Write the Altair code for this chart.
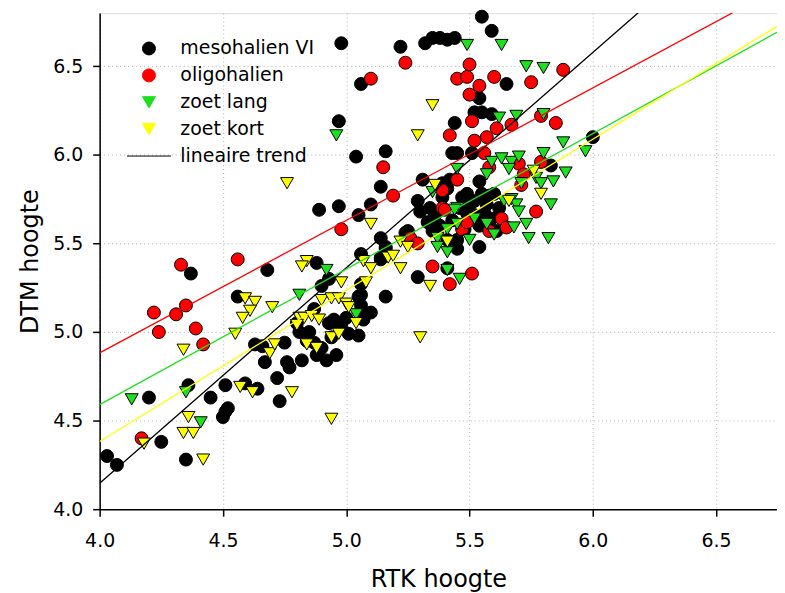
import altair as alt
import pandas as pd

# ---- data ----
meso_x = [4.03, 4.07, 4.20, 4.25, 4.35, 4.36, 4.45, 4.51, 4.50, 4.51, 4.52, 4.59, 4.64, 4.63, 4.66, 4.67,
          4.72, 4.73, 4.75, 4.76, 4.77, 4.82, 4.80, 4.81, 4.85, 4.87, 4.90, 4.87, 4.90, 4.92, 4.88, 4.96,
          4.94, 4.93, 4.96, 4.98, 5.01, 5.05, 4.95, 5.06, 5.06, 5.07, 5.10, 5.05, 5.16, 5.06, 5.06, 4.93,
          4.88, 4.68, 4.37, 4.56, 5.06, 5.14, 5.16, 5.14, 5.24, 5.05, 4.89, 4.97, 5.10, 5.14, 5.04, 5.16,
          4.97, 5.06, 4.98, 5.22, 5.32, 5.35, 5.38, 5.41, 5.44, 5.55, 5.59, 5.65, 5.54, 5.52, 5.55, 5.59,
          5.44, 5.43, 5.45, 5.51, 5.31, 5.39, 5.41, 5.42, 5.54, 5.29, 5.39, 5.34, 5.36, 5.33, 5.35, 5.47,
          5.49, 5.52, 5.55, 5.58, 5.60, 5.46, 5.49, 5.52, 5.56, 5.59, 5.54, 5.48, 5.43, 5.62, 5.41, 5.45,
          5.45, 5.61, 5.54, 5.41, 5.29, 5.25, 5.16, 5.14, 5.83, 6.00, 5.00, 4.84, 5.38, 5.50, 5.57, 5.30]
meso_y = [4.30, 4.25, 4.63, 4.38, 4.28, 4.70, 4.63, 4.70, 4.52, 4.55, 4.57, 4.71, 4.68, 4.93, 4.92, 4.83,
          4.74, 4.61, 4.94, 4.83, 4.80, 4.84, 5.05, 5.00, 5.00, 5.13, 5.26, 4.94, 4.91, 4.84, 4.87, 4.87,
          4.97, 5.05, 5.05, 5.03, 4.99, 4.98, 5.07, 5.15, 5.11, 5.07, 5.11, 5.20, 5.20, 5.21, 5.27, 5.30,
          5.39, 5.35, 5.33, 5.20, 5.44, 5.41, 5.47, 5.53, 5.56, 5.66, 5.69, 5.71, 5.72, 5.82, 5.99, 6.02,
          6.19, 6.40, 6.63, 6.61, 6.63, 6.66, 6.66, 6.65, 6.66, 6.78, 6.70, 6.40, 6.32, 6.24, 6.24, 6.23,
          6.18, 6.01, 6.01, 6.01, 5.86, 5.84, 5.81, 5.86, 5.85, 5.74, 5.76, 5.70, 5.66, 5.62, 5.57, 5.76,
          5.78, 5.74, 5.78, 5.77, 5.78, 5.70, 5.67, 5.66, 5.67, 5.64, 5.60, 5.58, 5.63, 5.70, 5.52, 5.52,
          5.47, 5.57, 5.48, 5.36, 5.31, 5.57, 5.48, 5.42, 5.94, 6.10, 5.08, 4.95, 5.60, 5.72, 5.72, 5.68]

oligo_x = [4.17, 4.22, 4.31, 4.35, 4.24, 4.39, 4.42, 4.33, 4.56, 4.98, 5.15, 5.19, 5.10, 5.24, 5.50,
           5.45, 5.49, 5.54, 5.60, 5.75, 5.88, 5.50, 5.51, 5.79, 5.61, 5.67, 5.85, 5.42, 5.52, 5.57,
           5.56, 5.45, 5.39, 5.39, 5.40, 5.58, 5.70, 5.79, 5.72, 5.71, 5.77, 5.63, 5.65, 5.58, 5.50,
           5.47, 5.26, 5.29, 5.35, 5.42, 5.51, 5.49]
oligo_y = [4.40, 5.11, 5.10, 5.15, 5.00, 5.02, 4.93, 5.38, 5.41, 5.58, 5.93, 5.77, 6.43, 6.52, 6.51,
           6.43, 6.44, 6.39, 6.44, 6.41, 6.48, 6.34, 6.19, 6.22, 6.15, 6.17, 6.18, 6.11, 6.08, 6.10,
           6.01, 5.86, 5.80, 5.70, 5.69, 5.93, 5.95, 5.96, 5.89, 5.83, 5.68, 5.64, 5.59, 5.57, 5.63,
           5.58, 5.53, 5.50, 5.37, 5.27, 5.33, 5.62]

lang_x = [4.13, 4.35, 4.41, 4.81, 4.92, 5.04, 4.96, 5.49, 5.63, 5.73, 5.80, 5.62, 5.69, 5.80, 5.45,
          5.35, 5.45, 5.57, 5.59, 5.63, 5.67, 5.66, 5.70, 5.80, 5.77, 5.88, 5.97, 5.89, 5.84, 5.79,
          5.71, 5.83, 5.73, 5.74, 5.82, 5.67, 5.69, 5.70, 5.64, 5.68, 5.57, 5.52, 5.45, 5.44, 5.41,
          5.37, 5.37, 5.41, 5.41, 5.46, 5.50, 5.60]
lang_y = [4.62, 4.66, 4.49, 5.21, 5.35, 5.10, 6.11, 6.62, 6.62, 6.50, 6.49, 6.21, 6.22, 6.23, 5.92,
          5.79, 5.70, 5.89, 5.96, 5.98, 5.96, 5.92, 5.99, 6.01, 5.87, 6.07, 6.02, 5.90, 5.85, 5.84,
          5.84, 5.72, 5.61, 5.53, 5.53, 5.75, 5.72, 5.68, 5.74, 5.59, 5.61, 5.64, 5.61, 5.69, 5.58,
          5.53, 5.48, 5.45, 5.35, 5.30, 5.52, 5.55]

kort_x = [4.18, 4.34, 4.38, 4.42, 4.36, 4.34, 4.55, 4.57, 4.62, 4.78, 4.94, 4.59, 4.63, 4.61, 4.58,
          4.70, 4.69, 4.71, 4.84, 4.88, 4.81, 4.83, 4.86, 4.89, 4.80, 4.90, 4.94, 4.97, 5.00, 5.01,
          5.04, 4.94, 4.97, 4.84, 4.82, 4.98, 5.08, 5.07, 5.10, 5.17, 5.19, 5.22, 5.25, 5.22, 5.34,
          5.30, 5.10, 4.76, 5.29, 5.35, 5.36, 5.41, 5.66, 5.76, 5.79]
kort_y = [4.37, 4.43, 4.43, 4.28, 4.52, 4.90, 4.99, 4.69, 4.66, 4.66, 4.51, 5.19, 5.17, 5.12, 5.08,
          5.14, 4.88, 4.93, 4.93, 4.91, 5.08, 5.08, 5.09, 5.07, 5.04, 5.18, 5.19, 5.19, 5.16, 5.14,
          5.05, 4.97, 4.99, 5.40, 5.37, 5.28, 5.28, 5.40, 5.36, 5.42, 5.43, 5.51, 5.48, 5.36, 5.26,
          4.97, 5.61, 5.84, 6.11, 6.28, 5.83, 5.51, 5.74, 5.91, 5.78]

groups = ["mesohalien VI", "oligohalien", "zoet lang", "zoet kort", "lineaire trend"]
colors = ["#000000", "#ff0000", "#1ee01e", "#ffff00", "#000000"]
shapes = ["circle", "circle", "triangle-down", "triangle-down", "M-3.4,0L3.4,0"]

# linear trends per group (value at x=4.0, slope)
trend_groups = ["mesohalien VI", "oligohalien", "zoet lang", "zoet kort"]
trend_y0 = [4.146, 4.882, 4.590, 4.382]
trend_slope = [1.216, 0.748, 0.765, 0.853]

x_ticks = [4.0, 4.5, 5.0, 5.5, 6.0, 6.5]
y_ticks = [4.0, 4.5, 5.0, 5.5, 6.0, 6.5]
x_dom = [4.0, 6.747]
y_dom = [4.0, 6.8]

# ---- build tables ----
rows = []
for g, xs, ys in [(groups[0], meso_x, meso_y), (groups[1], oligo_x, oligo_y),
                  (groups[2], lang_x, lang_y), (groups[3], kort_x, kort_y)]:
    for a, b in zip(xs, ys):
        rows.append({"group": g, "x": a, "y": b})
pts = pd.DataFrame(rows)
pts["order"] = range(len(pts))

lrows = []
for g, b0, s in zip(trend_groups, trend_y0, trend_slope):
    for xv in x_dom:
        lrows.append({"group": g, "x": xv, "y": b0 + s * (xv - 4.0)})
lines = pd.DataFrame(lrows)

FONT = "DejaVu Sans"

xs = alt.Scale(domain=x_dom, nice=False, zero=False)
ys = alt.Scale(domain=y_dom, nice=False, zero=False)
cscale = alt.Scale(domain=groups, range=colors)
sscale = alt.Scale(domain=groups, range=shapes)

xaxis = alt.Axis(values=x_ticks, format=".1f", title="RTK hoogte", grid=True,
                 gridDash=[1, 3], gridColor="#b0b0b0", gridWidth=1, labelFlush=False,
                 domainColor="black", domainWidth=1.5, tickColor="black", tickWidth=1.5,
                 tickSize=7, labelFont=FONT, labelFontSize=19, labelColor="black",
                 labelPadding=15, titleFont=FONT, titleFontSize=24, titleFontWeight="normal",
                 titleColor="black", titlePadding=18)
yaxis = alt.Axis(values=y_ticks, format=".1f", title="DTM hoogte", grid=True,
                 gridDash=[1, 3], gridColor="#b0b0b0", gridWidth=1, labelFlush=False,
                 domainColor="black", domainWidth=1.5, tickColor="black", tickWidth=1.5,
                 tickSize=7, labelFont=FONT, labelFontSize=19, labelColor="black",
                 labelPadding=10, titleFont=FONT, titleFontSize=24, titleFontWeight="normal",
                 titleColor="black", titlePadding=10)

legend = alt.Legend(title=None, orient="none", legendX=40, legendY=26, padding=0,
                    labelFont=FONT, labelFontSize=19, labelColor="black", labelOffset=22,
                    symbolSize=169, symbolStrokeColor="black", symbolStrokeWidth=1,
                    rowPadding=7, symbolOpacity=1)

points = alt.Chart(pts).mark_point(filled=True, stroke="black", strokeWidth=1,
                                   opacity=1, size=169).encode(
    x=alt.X("x:Q", scale=xs, axis=xaxis),
    y=alt.Y("y:Q", scale=ys, axis=yaxis),
    color=alt.Color("group:N", scale=cscale, legend=legend),
    shape=alt.Shape("group:N", scale=sscale, legend=legend),
    order=alt.Order("order:Q"),
)

trend = alt.Chart(lines).mark_line(strokeWidth=1.3, clip=True).encode(
    x=alt.X("x:Q", scale=xs),
    y=alt.Y("y:Q", scale=ys),
    color=alt.Color("group:N", scale=cscale, legend=None),
    detail="group:N",
)

chart = alt.layer(points, trend).properties(
    width=680, height=498,
    autosize=alt.AutoSizeParams(type="none"),
    padding={"left": 92, "top": 4, "right": 0, "bottom": 82},
).configure_view(stroke=None).configure(background="white")

chart.save("out.html", embed_options={"renderer": "svg", "actions": False})
